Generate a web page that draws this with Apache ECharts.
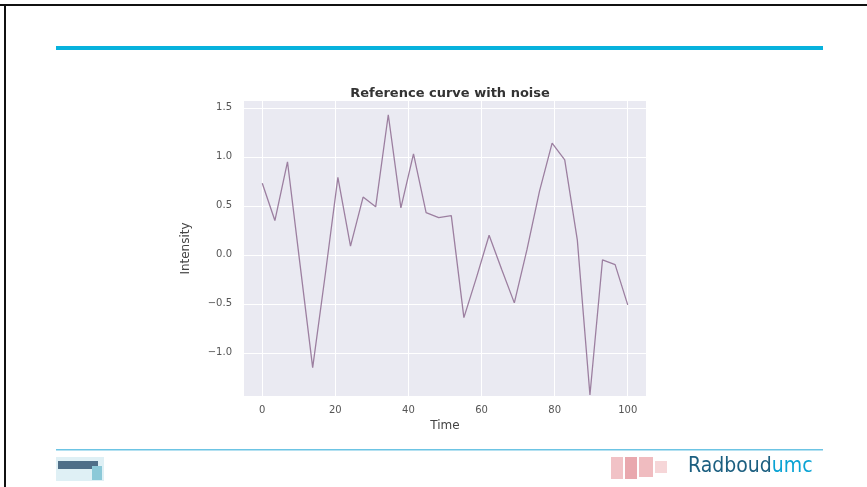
<!DOCTYPE html>
<html>
<head>
<meta charset="utf-8">
<script src="https://cdn.jsdelivr.net/npm/echarts@6/dist/echarts.min.js"></script>
<style>
html,body{margin:0;padding:0;background:#fff;}
#c{width:867px;height:487px;}
</style>
</head>
<body>
<div id="c"></div>
<script>
// Data
var timeValues = [0, 3.45, 6.9, 10.34, 13.79, 17.24, 20.69, 24.14, 27.59, 31.03,
  34.48, 37.93, 41.38, 44.83, 48.28, 51.72, 55.17, 58.62, 62.07, 65.52,
  68.97, 72.41, 75.86, 79.31, 82.76, 86.21, 89.66, 93.1, 96.55, 100];
var intensityValues = [0.73, 0.35, 0.95, -0.1, -1.15, -0.2, 0.79, 0.09, 0.59, 0.49,
  1.43, 0.48, 1.03, 0.43, 0.38, 0.40, -0.64, -0.23, 0.2, -0.15,
  -0.49, 0.05, 0.65, 1.14, 0.97, 0.15, -1.43, -0.05, -0.1, -0.51];
var xTicks = [0, 20, 40, 60, 80, 100];
var yTicks = [-1.0, -0.5, 0.0, 0.5, 1.0, 1.5];
var chartTitle = 'Reference curve with noise';
var xName = 'Time';
var yName = 'Intensity';

var points = timeValues.map(function (t, i) { return [t, intensityValues[i]]; });

var chart = echarts.init(document.getElementById('c'));
var font = 'DejaVu Sans';
chart.setOption({
  backgroundColor: '#ffffff',
  animation: false,
  title: {
    text: chartTitle,
    left: 445, top: 82, textAlign: 'center',
    textStyle: {fontFamily: font, fontSize: 13, fontWeight: 'bold', color: '#333'}
  },
  grid: {left: 244, right: 221, top: 101, bottom: 91, show: true, backgroundColor: '#EAEAF2', borderWidth: 0},
  xAxis: {
    type: 'value', min: -5, max: 105,
    name: xName, nameLocation: 'middle', nameGap: 24,
    nameTextStyle: {fontFamily: font, fontSize: 12, color: '#444'},
    axisLine: {show: false}, axisTick: {show: false, customValues: xTicks},
    axisLabel: {customValues: xTicks, fontFamily: font, fontSize: 10, color: '#555', margin: 9},
    splitLine: {show: true, lineStyle: {color: '#ffffff', width: 1}}
  },
  yAxis: {
    type: 'value', min: -1.44, max: 1.57,
    name: yName, nameLocation: 'middle', nameGap: 52, nameRotate: 90,
    nameTextStyle: {fontFamily: font, fontSize: 12, color: '#444'},
    axisLine: {show: false}, axisTick: {show: false, customValues: yTicks},
    axisLabel: {customValues: yTicks, fontFamily: font, fontSize: 10, color: '#555', margin: 12,
      formatter: function (v) { var s = v.toFixed(1); return v < 0 ? '\u2212' + s.slice(1) : s; }},
    splitLine: {show: true, lineStyle: {color: '#ffffff', width: 1}}
  },
  series: [{
    type: 'line', data: points, showSymbol: false,
    lineStyle: {color: '#9c7fa0', width: 1.3}
  }],
  graphic: [
    {type: 'rect', shape: {x: 0, y: 4, width: 867, height: 2}, style: {fill: '#111'}},
    {type: 'rect', shape: {x: 4, y: 4, width: 2, height: 483}, style: {fill: '#111'}},
    {type: 'rect', shape: {x: 56, y: 46, width: 767, height: 4}, style: {fill: '#07b2dd'}},
    {type: 'rect', shape: {x: 56, y: 449, width: 767, height: 1.5}, style: {fill: '#6cc4e4'}},
    // left logo
    {type: 'rect', shape: {x: 56, y: 457, width: 48, height: 24}, style: {fill: '#dff0f5'}},
    {type: 'rect', shape: {x: 58, y: 461, width: 40, height: 8}, style: {fill: '#4f6f88'}},
    {type: 'rect', shape: {x: 92, y: 466, width: 10, height: 14}, style: {fill: '#8cc9d8'}},
    // right logo (red mark)
    {type: 'rect', shape: {x: 611, y: 457, width: 12, height: 22}, style: {fill: '#f1c2c6'}},
    {type: 'rect', shape: {x: 625, y: 457, width: 12, height: 22}, style: {fill: '#e9a8ae'}},
    {type: 'rect', shape: {x: 639, y: 457, width: 14, height: 20}, style: {fill: '#f0bcc0'}},
    {type: 'rect', shape: {x: 655, y: 461, width: 12, height: 12}, style: {fill: '#f6d6d8'}},
    {type: 'text', left: 688, top: 456, style: {
      text: '{a|Radboud}{b|umc}',
      rich: {
        a: {font: '21px "Liberation Sans Narrow", "DejaVu Sans Condensed", sans-serif', fill: '#1c5f80'},
        b: {font: '21px "Liberation Sans Narrow", "DejaVu Sans Condensed", sans-serif', fill: '#0aa3d4'}
      }
    }}
  ]
});
</script>
</body>
</html>
